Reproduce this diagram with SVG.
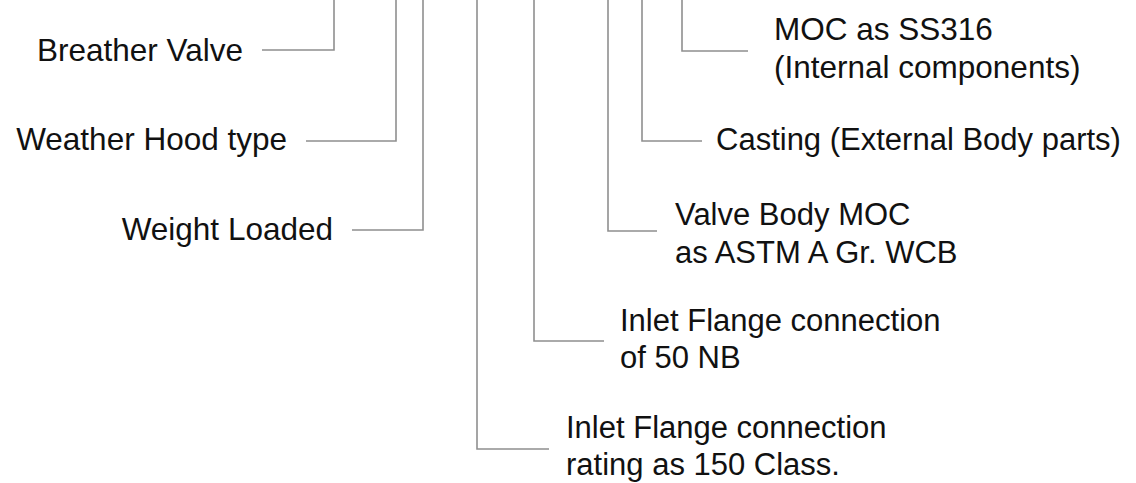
<svg xmlns="http://www.w3.org/2000/svg" width="1136" height="483" viewBox="0 0 1136 483">
<style>
.c{fill:none;stroke:#8f8f8f;stroke-width:1.6}
.t{font-family:"Liberation Sans",Arial,sans-serif;font-size:31px;fill:#111}
.e{text-anchor:end;font-size:31.5px}
.m{font-size:31.5px}
</style>
<rect width="1136" height="483" fill="#fff"/>
<g id="connectors">
<path class="c" d="M334 0V50H262"/>
<path class="c" d="M396 0V141H306"/>
<path class="c" d="M423 0V230H352"/>
<path class="c" d="M682 0V51H748"/>
<path class="c" d="M642 0V141H702"/>
<path class="c" d="M608 0V231H657"/>
<path class="c" d="M534 0V341H604"/>
<path class="c" d="M477 0V449H549"/>
</g>
<g id="breather-valve"><text class="t e" x="243" y="61">Breather Valve</text></g>
<g id="weather-hood"><text class="t e" x="287" y="150">Weather Hood type</text></g>
<g id="weight-loaded"><text class="t e" x="333" y="240">Weight Loaded</text></g>
<g id="moc-ss316"><text class="t m" x="774" y="40">MOC as SS316</text><text class="t m" x="774" y="78">(Internal components)</text></g>
<g id="casting"><text class="t" x="716" y="150">Casting (External Body parts)</text></g>
<g id="valve-body"><text class="t" x="675" y="225">Valve Body MOC</text><text class="t" x="675" y="263">as ASTM A Gr. WCB</text></g>
<g id="inlet-50nb"><text class="t" x="620" y="331">Inlet Flange connection</text><text class="t" x="620" y="368">of 50 NB</text></g>
<g id="inlet-150"><text class="t" x="566" y="438">Inlet Flange connection</text><text class="t" x="566" y="475">rating as 150 Class.</text></g>
</svg>
